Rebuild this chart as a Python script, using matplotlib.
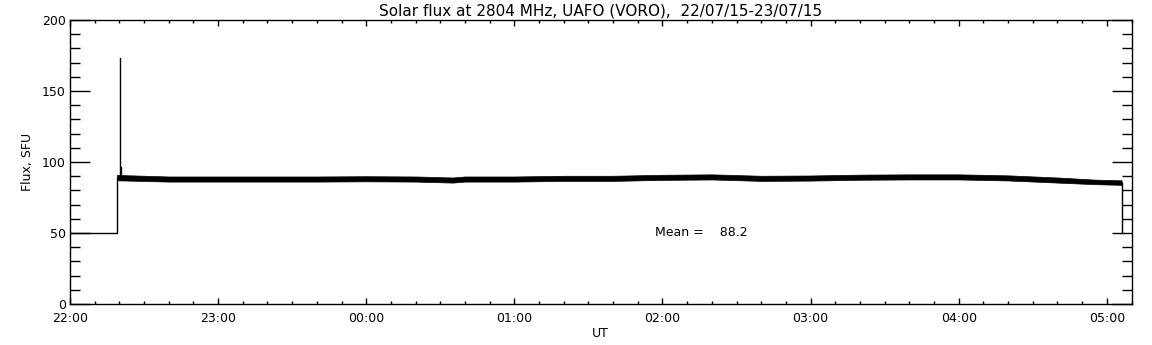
import matplotlib
matplotlib.use("Agg")
import matplotlib.pyplot as plt
from matplotlib.ticker import MultipleLocator

# ---- data (minutes since 22:00 UT) ----
pre_t = [0, 19]
pre_v = [50, 50]

band_t = [19, 40, 60, 80, 100, 120, 140, 155, 160, 180, 200, 220,
          240, 260, 280, 300, 320, 340, 360, 380, 400, 415, 426]
band_v = [89.0, 88.0, 88.0, 88.0, 88.0, 88.2, 88.0, 87.3, 88.0,
          88.0, 88.5, 88.5, 89.2, 89.5, 88.5, 88.7, 89.3, 89.5, 89.5, 88.8, 87.3,
          86.0, 85.5]
band_half = [1.9, 1.8, 1.8, 1.8, 1.8, 1.8, 1.8, 1.8, 1.8,
             1.8, 1.8, 1.8, 1.8, 1.8, 1.8, 1.8, 1.8, 1.8, 1.8, 1.8, 1.8,
             1.6, 1.6]

spike_t = [20.3, 20.8]
spike_v = [173.0, 96.5]

post_t = [426, 426]
post_v = [85.5, 50]

x_ticks = [0, 60, 120, 180, 240, 300, 360, 420]
x_labels = ["22:00", "23:00", "00:00", "01:00", "02:00", "03:00", "04:00", "05:00"]
mean_value = 88.2

title = "Solar flux at 2804 MHz, UAFO (VORO),  22/07/15-23/07/15"

plt.rcParams['font.family'] = ['DejaVu Sans']
fig = plt.figure(figsize=(11.52, 3.45), dpi=100)
ax = fig.add_axes([70/1152, 1 - 304/345, (1131.5-70)/1152, (304-20)/345])

lw = 1.0
ax.plot(pre_t + [pre_t[-1]], pre_v + [band_v[0]], color='black', lw=lw)
for st, sv in zip(spike_t, spike_v):
    ax.plot([st, st], [band_v[0] - 1, sv], color='black', lw=lw)
lo = [v - h for v, h in zip(band_v, band_half)]
hi = [v + h for v, h in zip(band_v, band_half)]
ax.fill_between(band_t, lo, hi, color='black', lw=0.5, edgecolor='black')
ax.plot(post_t, post_v, color='black', lw=lw)

ax.set_xlim(0, 430)
ax.set_ylim(0, 200)
ax.set_xticks(x_ticks)
ax.set_xticklabels(x_labels)
ax.xaxis.set_minor_locator(MultipleLocator(10))
ax.yaxis.set_major_locator(MultipleLocator(50))
ax.yaxis.set_minor_locator(MultipleLocator(10))

for s in ax.spines.values():
    s.set_linewidth(1.0)

ax.tick_params(axis='y', which='major', direction='in', length=14.4, width=1.0,
               left=True, right=True, labelsize=9, pad=3)
ax.tick_params(axis='y', which='minor', direction='in', length=7.2, width=1.0,
               left=True, right=True)
ax.tick_params(axis='x', which='major', direction='in', length=4.3, width=1.0,
               top=True, bottom=True, labelsize=9, pad=6)
ax.tick_params(axis='x', which='minor', direction='in', length=2.2, width=1.0,
               top=True, bottom=True)

ax.set_title(title, fontsize=11, pad=3)
ax.set_ylabel("Flux, SFU", fontsize=9, labelpad=6)
ax.set_xlabel("UT", fontsize=9, labelpad=1)

ax.text(237, 50.5, "Mean =    %.1f" % mean_value, fontsize=9, ha='left', va='center')

fig.savefig("out.png", dpi=100)
